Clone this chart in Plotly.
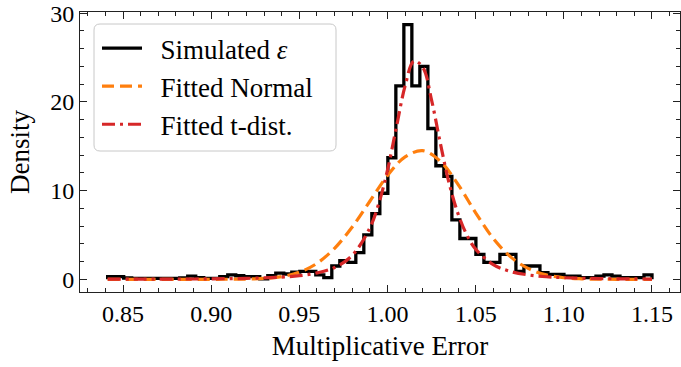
import plotly.graph_objects as go

# ---- data ----
bin_start = 0.8413
bin_width = 0.00454
density = [0.3, 0.3, 0.15, 0.1, 0.1, 0.1, 0.1, 0.1, 0.1, 0.15,
           0.35, 0.2, 0.1, 0.1, 0.3, 0.5, 0.4, 0.3, 0.3, 0.05,
           0.4, 0.7, 0.6, 0.8, 0.9, 0.9, 0.5, 0.2, 1.5, 2.1,
           1.9, 3.0, 5.0, 7.4, 9.7, 13.7, 21.8, 28.7, 21.8, 24.0,
           17.0, 12.8, 11.6, 6.7, 4.6, 4.6, 2.8, 1.9, 1.9, 2.8,
           2.8, 0.9, 1.5, 1.5, 0.75, 0.55, 0.55, 0.35, 0.35, 0.2,
           0.2, 0.35, 0.5, 0.35, 0.2, 0.2, 0.2, 0.5]

normal_x = [0.8413, 0.86, 0.88, 0.90, 0.91, 0.92, 0.93, 0.94, 0.95, 0.96, 0.97, 0.98,
            0.99, 1.00, 1.01, 1.02, 1.03, 1.04, 1.05, 1.06, 1.07, 1.08,
            1.09, 1.10, 1.11, 1.12, 1.13, 1.15]
normal_y = [0.0, 0.0, 0.0, 0.002, 0.008, 0.03, 0.1, 0.3, 0.8, 1.8, 3.5, 5.9,
            8.8, 11.7, 13.8, 14.5, 13.3, 10.7, 7.5, 4.6, 2.5, 1.2,
            0.5, 0.18, 0.06, 0.015, 0.004, 0.0]

tdist_x = [0.8413, 0.86, 0.88, 0.90, 0.92, 0.94, 0.95, 0.96, 0.97, 0.98, 0.99, 0.995,
           1.000, 1.005, 1.010, 1.015, 1.020, 1.025, 1.030, 1.035, 1.040, 1.045,
           1.05, 1.06, 1.07, 1.08, 1.09, 1.10, 1.12, 1.14, 1.15]
tdist_y = [0.011, 0.017, 0.03, 0.05, 0.11, 0.25, 0.41, 0.72, 1.33, 2.7, 5.8, 8.5,
           12.3, 17.1, 21.8, 24.6, 23.9, 20.2, 15.3, 10.8, 7.4, 5.0,
           3.4, 1.66, 0.87, 0.49, 0.29, 0.18, 0.083, 0.042, 0.031]

legend_names = ["Simulated <i>ε</i>", "Fitted Normal", "Fitted t-dist."]
x_ticks = [0.85, 0.90, 0.95, 1.00, 1.05, 1.10, 1.15]
x_tick_text = ["0.85", "0.90", "0.95", "1.00", "1.05", "1.10", "1.15"]
y_ticks = [0, 10, 20, 30]

# ---- build step outline ----
edges = [bin_start + i * bin_width for i in range(len(density) + 1)]
step_x = [edges[0]] + edges
step_y = [0] + density + [0]

FONT = "Liberation Serif"
PAD = "\u00a0\u00a0"

fig = go.Figure()
fig.add_trace(go.Scatter(x=step_x, y=step_y, mode="lines", line_shape="hv",
                         line=dict(color="black", width=3.3), name=PAD + legend_names[0]))
fig.add_trace(go.Scatter(x=normal_x, y=normal_y, mode="lines", line_shape="spline",
                         line=dict(color="#ff7f0e", width=3.2, dash="12px,6px"),
                         name=PAD + legend_names[1]))
fig.add_trace(go.Scatter(x=tdist_x, y=tdist_y, mode="lines", line_shape="spline",
                         line=dict(color="#d62728", width=3.2, dash="13px,5px,3px,5px"),
                         name=PAD + legend_names[2]))

axis_common = dict(
    showline=True, linecolor="#222", linewidth=1, mirror="ticks",
    ticks="inside", ticklen=7, tickwidth=1, tickcolor="#222",
    showgrid=False, zeroline=False,
    tickfont=dict(family=FONT, size=24, color="black"),
)

fig.update_xaxes(range=[0.8256, 1.1659], tickvals=x_ticks, ticktext=x_tick_text,
                 minor=dict(dtick=0.01, tick0=0.85, ticks="inside", ticklen=4,
                            tickwidth=1, tickcolor="#222", showgrid=False),
                 title=dict(text="Multiplicative Error", font=dict(family=FONT, size=27, color="black"),
                            standoff=10),
                 **axis_common)
fig.update_yaxes(range=[-1.43, 30.13], tickvals=y_ticks,
                 minor=dict(dtick=2, tick0=0, ticks="inside", ticklen=4,
                            tickwidth=1, tickcolor="#222", showgrid=False),
                 title=dict(text="Density", font=dict(family=FONT, size=27, color="black"),
                            standoff=12),
                 **axis_common)

# rounded legend frame
W, H = 600.0, 280.0
x0, x1 = (94 - 80) / W, (336 - 80) / W
y1, y0 = 1 - (24 - 12) / H, 1 - (151 - 12) / H
rx, ry = 6 / W, 6 / H
path = (f"M{x0+rx},{y0} L{x1-rx},{y0} Q{x1},{y0} {x1},{y0+ry} "
        f"L{x1},{y1-ry} Q{x1},{y1} {x1-rx},{y1} L{x0+rx},{y1} Q{x0},{y1} {x0},{y1-ry} "
        f"L{x0},{y0+ry} Q{x0},{y0} {x0+rx},{y0} Z")
fig.add_shape(type="path", path=path, xref="paper", yref="paper",
              line=dict(color="#c8c8c8", width=1), fillcolor="rgba(255,255,255,0.85)",
              layer="below")

fig.update_layout(
    width=681, height=367,
    margin=dict(l=80, r=1, t=12, b=75),
    plot_bgcolor="white", paper_bgcolor="white",
    font=dict(family=FONT, color="black"),
    legend=dict(x=(97 - 80) / W, y=1 - (24 - 12) / H, xanchor="left", yanchor="top",
                bgcolor="rgba(0,0,0,0)", borderwidth=0,
                font=dict(family=FONT, size=27, color="black"),
                itemwidth=40),
    showlegend=True,
)

fig.write_html("out.html")
